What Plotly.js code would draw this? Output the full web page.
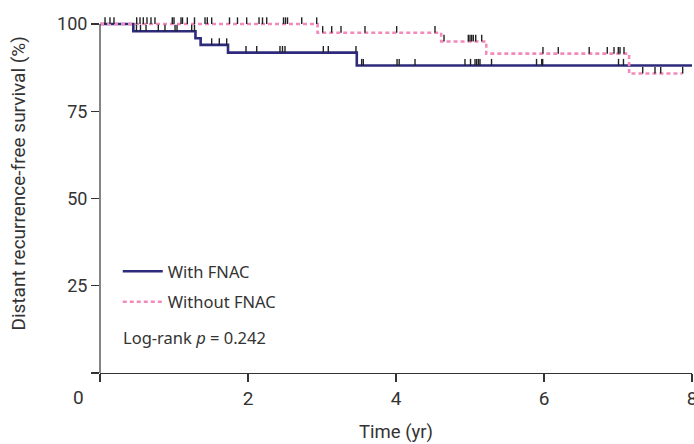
<!DOCTYPE html>
<html>
<head>
<meta charset="utf-8">
<script src="https://cdn.plot.ly/plotly-3.0.1.min.js"></script>
<style>html,body{margin:0;padding:0;background:#fff}#chart{width:694px;height:444px}</style>
</head>
<body>
<div id="chart"></div>
<script>
// Kaplan-Meier step curves (time in years, survival in %)
const withTimes = [0, 0.45, 1.29, 1.36, 1.73, 3.47, 8.0];
const withSurv  = [100, 97.9, 95.9, 94.0, 91.8, 88.1, 88.1];
const withoutTimes = [0, 2.94, 4.61, 5.22, 7.15, 7.87];
const withoutSurv  = [100, 97.5, 95.0, 91.5, 85.8, 85.8];

// Censoring times
const withCensor = [0.493, 0.547, 0.622, 0.788, 0.878, 1.014, 1.041, 1.239, 1.277,
  1.509, 1.612, 1.712,
  1.973, 2.118, 2.432, 2.466, 2.5, 3.018, 3.085, 3.459,
  3.536, 3.558, 4.014, 4.043, 4.257, 4.932, 5.007, 5.068, 5.091, 5.115, 5.135, 5.291,
  5.899, 5.969, 5.982, 7.007, 7.074];
const withoutCensor = [0.068, 0.135, 0.189, 0.496, 0.541, 0.585, 0.635, 0.689, 0.743,
  0.977, 1.0, 1.095, 1.115, 1.18, 1.277, 1.419, 1.45, 1.509, 1.75, 1.858, 1.982,
  2.149, 2.196, 2.253, 2.48, 2.507, 2.534, 2.726, 2.928,
  3.009, 3.131, 3.257, 3.581, 4.009, 4.527,
  4.649, 4.977, 5.0, 5.023, 5.045, 5.077, 5.158,
  5.986, 6.193, 6.611, 6.855, 6.946, 7.004, 7.027, 7.081,
  7.334, 7.5, 7.577, 7.874];

const xTickVals = [0, 2, 4, 6, 8];
const xTickText = ['', '2', '4', '6', '8'];
const yTickVals = [0, 25, 50, 75, 100];
const yTickText = ['', '25', '50', '75', '100'];

const blue = '#2e2a7c';
const pink = '#f28bbb';

function survAt(times, surv, t) {
  let s = surv[0];
  for (let i = 0; i < times.length; i++) { if (times[i] <= t) s = surv[i]; }
  return s;
}
function censorSegs(cens, times, surv) {
  const x = [], y = [];
  cens.forEach(t => {
    const s = survAt(times, surv, t);
    x.push(t, t, null); y.push(s, s + 1.9, null);
  });
  return {x, y};
}
const cw = censorSegs(withCensor, withTimes, withSurv);
const co = censorSegs(withoutCensor, withoutTimes, withoutSurv);

const traces = [
  {x: withTimes, y: withSurv, mode: 'lines', line: {shape: 'hv', color: blue, width: 2.6}, name: 'With FNAC', legendgroup: 'a'},
  {x: withoutTimes, y: withoutSurv, mode: 'lines', line: {shape: 'hv', color: pink, width: 2.6, dash: '4px,3px'}, name: 'Without FNAC', legendgroup: 'b'},
  {x: cw.x, y: cw.y, mode: 'lines', line: {color: '#222', width: 1.4}, showlegend: false, hoverinfo: 'skip'},
  {x: co.x, y: co.y, mode: 'lines', line: {color: '#222', width: 1.4}, showlegend: false, hoverinfo: 'skip'}
];

const layout = {
  width: 694, height: 444,
  margin: {l: 100, r: 2, t: 16.5, b: 71},
  paper_bgcolor: '#fff', plot_bgcolor: '#fff',
  showlegend: true,
  legend: {x: 0.03, y: 0.334, xanchor: 'left', yanchor: 'top', bgcolor: 'rgba(0,0,0,0)',
    itemwidth: 40,
    font: {family: 'Noto Sans', size: 16.5, color: '#333'}, tracegroupgap: 6, traceorder: 'grouped'},
  xaxis: {range: [0, 8], tickvals: xTickVals, ticktext: xTickText, ticks: 'outside', ticklen: 8,
    tickcolor: '#333', tickwidth: 1.2, showline: true, linecolor: '#333', linewidth: 1.2,
    showgrid: false, zeroline: false, fixedrange: true, ticklabeloverflow: 'allow',
    tickfont: {family: 'Roboto', size: 19, color: '#333'},
    title: {text: 'Time (yr)', font: {family: 'Roboto', size: 18.5, color: '#333'}, standoff: 16}},
  yaxis: {range: [0, 102], tickvals: yTickVals, ticktext: yTickText, ticks: 'outside', ticklen: 8,
    tickcolor: '#333', tickwidth: 1.2, showline: false,
    showgrid: false, zeroline: false, fixedrange: true,
    tickfont: {family: 'Roboto', size: 18, color: '#333'}},
  shapes: [
    {type: 'line', xref: 'paper', yref: 'y', x0: 0, x1: 0, y0: 0, y1: 100, line: {color: '#333', width: 1.2}}
  ],
  annotations: [
    {text: 'Distant recurrence-free survival (%)', textangle: -90, xref: 'paper', yref: 'paper',
      x: -0.138, y: 0.533, xanchor: 'center', yanchor: 'middle', showarrow: false,
      font: {family: 'Roboto', size: 19, color: '#333'}},
    {text: '0', xref: 'paper', yref: 'paper', x: -0.037, y: -0.07, xanchor: 'center', yanchor: 'middle',
      showarrow: false, font: {family: 'Roboto', size: 19, color: '#333'}},
    {text: 'Log-rank <i>p</i> = 0.242', xref: 'paper', yref: 'paper', x: 0.036, y: 0.1, xanchor: 'left', yanchor: 'middle',
      showarrow: false, font: {family: 'Noto Sans', size: 16.5, color: '#333'}}
  ]
};

Plotly.newPlot('chart', traces, layout, {displayModeBar: false, staticPlot: true});
</script>
</body>
</html>
